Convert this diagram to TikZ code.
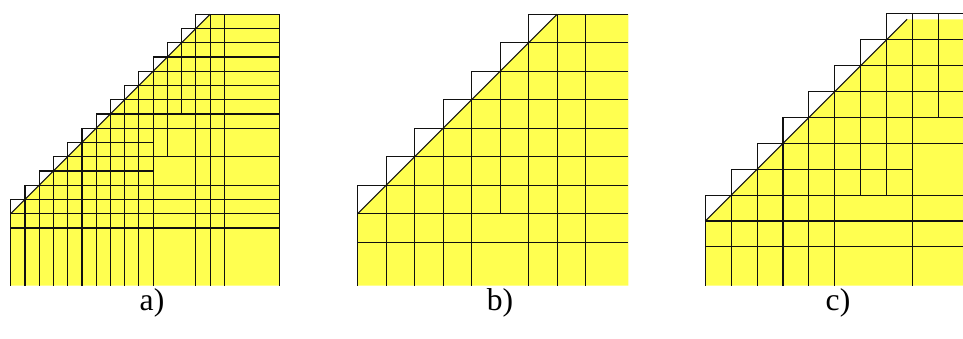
\documentclass[tikz,border=0pt]{standalone}
\usepackage{fontspec}
\setmainfont{Liberation Serif}
\usetikzlibrary{positioning}
\definecolor{blockYellow}{HTML}{FFFF50}
\definecolor{gridBlack}{HTML}{111111}

\begin{document}
\begin{tikzpicture}[x=0.02cm,y=0.02cm,
  cellfill/.style={fill=blockYellow},
  gridline/.style={draw=gridBlack,line width=0.65pt},
  caption/.style={font=\fontsize{18}{20}\selectfont}]
  \useasboundingbox (0,0) rectangle (963,338);

  % a) fine partition
  \begin{scope}[shift={(10.7,124.3)},x=0.285cm,y=0.285cm]
    \fill[cellfill] (0,-5.05) -- (0,0) -- (14,14) -- (18.85,14) -- (18.85,-5.05) -- cycle;
    \foreach \i in {0,...,13}{
      \draw[gridline] (\i,\i) -- (\i,\i+1) -- (\i+1,\i+1);}
    \draw[gridline] (0,0) -- (14,14);
    \draw[gridline] (14,14) -- (18.85,14) -- (18.85,-5.05);
    \foreach \j in {-1,0,1,2,4,6,7,8,9,10,11,12,13}{
      \draw[gridline] ({max(\j,0)},\j) -- (18.85,\j);}
    \foreach \j in {3,5}{
      \draw[gridline] (\j,\j) -- (10,\j);}
    \foreach \i in {0,...,10,13,14,15}{
      \draw[gridline] (\i,{min(\i,14)}) -- (\i,-5.05);}
    \draw[gridline] (11,11) -- (11,4);
    \draw[gridline] (12,12) -- (12,7);
  \end{scope}

  % b) coarse partition
  \begin{scope}[shift={(357.7,124.3)},x=0.285cm,y=0.285cm]
    \fill[cellfill] (0,-5.05) -- (0,0) -- (14,14) -- (19,14) -- (19,-5.05) -- cycle;
    \foreach \i in {0,2,...,12}{
      \draw[gridline] (\i,\i) -- (\i,\i+2) -- (\i+2,\i+2);}
    \draw[gridline] (0,0) -- (14,14);
    \draw[gridline] (14,14) -- (19,14);
    \foreach \j in {-2,0,...,12}{
      \draw[gridline] ({max(\j,0)},\j) -- (19,\j);}
    \foreach \i in {0,2,4,6,8,12,14,16}{
      \draw[gridline] (\i,{min(\i,14)}) -- (\i,-5.05);}
    \draw[gridline] (10,10) -- (10,0);
  \end{scope}

  % c) mixed partition
  \begin{scope}[shift={(705.3,117)},x=0.518cm,y=0.518cm]
    \fill[cellfill] (0,-2.5) -- (0,0) -- (7.79,7.79) -- (9.95,7.79) -- (9.95,-2.5) -- cycle;
    \foreach \i in {0,...,7}{
      \draw[gridline] (\i,\i) -- (\i,\i+1) -- (\i+1,\i+1);}
    \draw[gridline] (0,0) -- (7.79,7.79);
    \draw[gridline] (8,8) -- (9.95,8);
    \foreach \j in {-1,0,1,3,4,5,6,7}{
      \draw[gridline] ({max(\j,0)},\j) -- (9.95,\j);}
    \draw[gridline] (2,2) -- (8,2);
    \foreach \i in {0,...,5,8}{
      \draw[gridline] (\i,{min(\i,8)}) -- (\i,-2.5);}
    \draw[gridline] (6,6) -- (6,1);
    \draw[gridline] (7,7) -- (7,1);
    \draw[gridline] (9,8) -- (9,4);
  \end{scope}

  \node[caption] (capA) at (152,35) {a)};
  \node[caption] (capB) at (500,35) {b)};
  \node[caption] (capC) at (838,35) {c)};
\end{tikzpicture}
\end{document}
